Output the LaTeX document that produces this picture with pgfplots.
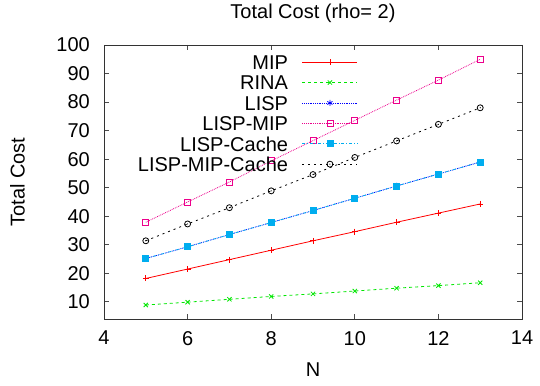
\documentclass[border=0pt]{standalone}
\usepackage{fontspec}
\setmainfont{Liberation Sans}
\usepackage{pgfplots}
\pgfplotsset{compat=1.18}
\pgfdeclareplotmark{odot}{%
  \pgfpathcircle{\pgfpointorigin}{\pgfplotmarksize}\pgfusepathqstroke
  \pgfpathcircle{\pgfpointorigin}{0.6pt}\pgfusepathqfill}
\newcommand{\bigf}{\fontsize{20pt}{24pt}\selectfont}
\definecolor{gpgreen}{RGB}{0,230,0}
\begin{document}
\begin{tikzpicture}
\path[use as bounding box] (-104pt,-66pt) rectangle (436pt,319pt);
\begin{axis}[
  at={(0pt,0pt)}, anchor=south west,
  scale only axis, width=418pt, height=274pt,
  xmin=4, xmax=14, ymin=4, ymax=100,
  xtick={4,6,8,10,12,14}, ytick={10,20,...,100},
  tick align=inside, major tick length=5pt,
  axis line style={line width=0.9pt, black!80},
  every tick/.style={black!70, line width=0.8pt},
  /pgf/number format/assume math mode=true,
  tick label style={font=\bigf},
  yticklabel style={inner sep=0pt, anchor=east, xshift=-14pt},
  xticklabel style={inner sep=0pt, anchor=north, yshift=-12pt},
  title={Total Cost (rho= 2)},
  title style={font=\bigf, at={(axis description cs:0.5,1)}, anchor=base, yshift=20pt, inner sep=0pt},
  xlabel={N},
  xlabel style={font=\bigf, at={(axis description cs:0.5,0)}, anchor=center, yshift=-51pt},
  ylabel={Total Cost},
  ylabel style={font=\bigf, at={(axis description cs:-0.207,0.5)}, anchor=center, inner sep=0pt},
  legend style={draw=none, fill=none, font=\bigf, at={(axis cs:10.077,96.6)}, anchor=north east,
    inner sep=0pt, row sep=5.9pt, column sep=14pt,
    nodes={inner sep=0pt, text height=14.5pt, text depth=0pt}},
  legend plot pos=right, legend cell align=right,
  legend image code/.code={\draw[mark repeat=2,mark phase=2] plot coordinates {(0pt,0pt)(27.5pt,0pt)(55pt,0pt)};},
  every axis plot/.append style={line width=0.8pt, mark size=3pt},
]
\addplot[red, mark=+, mark options={solid}] coordinates {
(5,18.2) (6,21.5) (7,24.8) (8,28.1) (9,31.4) (10,34.6) (11,37.9) (12,41.1) (13,44.3)};
\addlegendentry{MIP}
\addplot[gpgreen, dashed, mark=x, mark options={solid}] coordinates {
(5,8.9) (6,9.9) (7,10.9) (8,11.9) (9,12.8) (10,13.8) (11,14.8) (12,15.7) (13,16.7)};
\addlegendentry{RINA}
\addplot[blue, densely dotted, mark=asterisk, mark options={solid}] coordinates {
(5,25.2) (6,29.3) (7,33.6) (8,37.8) (9,42.0) (10,46.3) (11,50.6) (12,54.8) (13,59.0)};
\addlegendentry{LISP}
\addplot[magenta, densely dotted, mark=square, mark options={solid}] coordinates {
(5,37.9) (6,45.0) (7,52.0) (8,59.4) (9,66.5) (10,73.6) (11,80.7) (12,87.7) (13,95.0)};
\addlegendentry{LISP-MIP}
\addplot[cyan, dash dot, mark=square*, mark options={solid}] coordinates {
(5,25.2) (6,29.3) (7,33.6) (8,37.8) (9,42.0) (10,46.3) (11,50.6) (12,54.8) (13,59.0)};
\addlegendentry{LISP-Cache}
\addplot[black, dash pattern=on 2pt off 4pt, mark=odot, mark options={solid}] coordinates {
(5,31.4) (6,37.3) (7,43.0) (8,48.9) (9,54.6) (10,60.6) (11,66.4) (12,72.2) (13,78.0)};
\addlegendentry{LISP-MIP-Cache}
\end{axis}
\end{tikzpicture}
\end{document}
